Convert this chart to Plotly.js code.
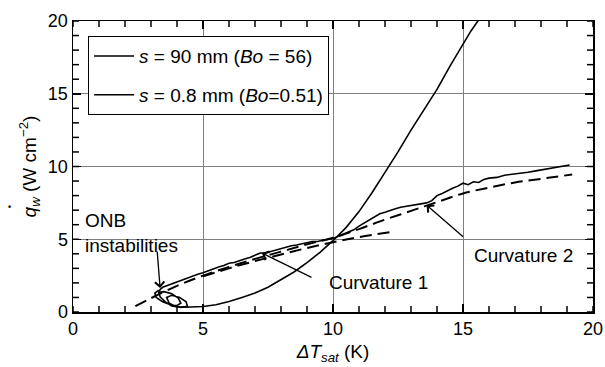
<!DOCTYPE html>
<html>
<head>
<meta charset="utf-8">
<script src="https://cdn.plot.ly/plotly-3.0.1.min.js"></script>
<style>html,body{margin:0;padding:0;background:#fff;}#chart{width:605px;height:367px;}</style>
</head>
<body>
<div id="chart"></div>
<script>
// s = 90 mm (Bo = 56): ONB loops then steep curve
const s90_x = [3.30,3.15,3.20,3.45,3.75,4.00,4.15,4.05,3.80,3.50,3.30,3.35,3.55,3.80,4.15,4.40,4.35,4.10,3.80,3.60,3.70,3.95,4.30,4.60,5.0,5.5,6.0,6.5,7.0,7.5,8.0,8.5,9.0,9.5,10.0,10.5,11.0,11.5,12.0,12.5,13.0,13.5,14.0,14.5,15.0,15.3,15.65];
const s90_y = [1.50,1.30,1.00,0.70,0.50,0.45,0.60,0.95,1.25,1.40,1.35,1.05,0.70,0.42,0.32,0.40,0.70,1.00,1.15,1.00,0.60,0.38,0.33,0.35,0.38,0.50,0.72,1.00,1.30,1.70,2.20,2.75,3.40,4.10,4.90,5.80,6.90,8.20,9.60,11.0,12.5,13.9,15.3,16.9,18.4,19.3,20.2];

// s = 0.8 mm (Bo = 0.51): noisy, gently rising curve
const s08_x = [3.30,3.35,3.45,3.60,3.80,4.00,4.20,4.40,4.60,4.80,5.00,5.20,5.40,5.60,5.80,6.00,6.20,6.40,6.60,6.80,7.00,7.20,7.40,7.60,7.80,8.00,8.20,8.40,8.60,8.80,9.00,9.20,9.40,9.60,9.80,10.0,10.2,10.4,10.6,10.8,11.0,11.2,11.4,11.6,11.8,12.0,12.2,12.4,12.6,12.8,13.0,13.2,13.4,13.6,13.8,14.0,14.2,14.4,14.6,14.8,15.0,15.2,15.4,15.6,15.8,16.0,16.3,16.6,16.9,17.2,17.5,17.8,18.1,18.4,18.7,19.0,19.1];
const s08_y = [1.30,1.55,1.70,1.80,1.95,2.10,2.20,2.35,2.45,2.60,2.70,2.85,2.95,3.10,3.20,3.35,3.40,3.55,3.65,3.75,3.90,4.05,4.05,4.15,4.30,4.40,4.45,4.55,4.60,4.70,4.75,4.85,4.85,4.95,5.00,5.05,5.20,5.30,5.45,5.65,5.90,6.10,6.35,6.50,6.75,6.85,7.00,7.10,7.20,7.25,7.35,7.40,7.45,7.50,7.65,8.00,8.15,8.35,8.50,8.65,8.85,8.75,8.95,8.90,9.10,9.20,9.25,9.40,9.45,9.55,9.60,9.70,9.80,9.85,9.95,10.05,10.10];

// dashed correlation curves
const fit1_x = [2.4,3.0,4.0,5.0,6.0,7.0,8.0,9.0,10.0,11.0,12.0,13.0,14.0,15.0,16.0,17.0,18.0,19.2];
const fit1_y = [0.40,0.95,1.80,2.50,3.10,3.65,4.15,4.65,5.10,5.70,6.35,6.95,7.55,8.15,8.55,8.90,9.15,9.45];
const fit2_x = [5.0,6.0,7.0,8.0,9.0,10.0,11.0,12.4];
const fit2_y = [2.45,3.00,3.50,3.95,4.40,4.80,5.15,5.55];

const xTicks = [0,5,10,15,20];
const yTicks = [0,5,10,15,20];
const minorStep = 1;

const legendLabels = ['<i>s</i> = 90 mm (<i>Bo</i> = 56)', '<i>s</i> = 0.8 mm (<i>Bo</i>=0.51)'];

const FONT = 'Liberation Sans, Arial, sans-serif';
const FS = 18;
const FA = 19;

const W = 605, H = 367, M = {l:73, r:12, t:21, b:55};
const plotW = W - M.l - M.r, plotH = H - M.t - M.b;

const traces = [
  {x: s90_x, y: s90_y, mode:'lines', name: legendLabels[0], legendgroup:'a',
   line:{color:'#000', width:1.6}},
  {x: s08_x, y: s08_y, mode:'lines', name: legendLabels[1], legendgroup:'b',
   line:{color:'#000', width:1.6}},
  {x: fit1_x, y: fit1_y, mode:'lines', showlegend:false, line:{color:'#000', width:2, dash:'12px,6px', shape:'spline'}},
  {x: fit2_x, y: fit2_y, mode:'lines', showlegend:false, line:{color:'#000', width:2, dash:'12px,6px', shape:'spline'}}
];

function axisFor(ticks, title, standoff) {
  return {
    range:[ticks[0], ticks[ticks.length-1]],
    tickmode:'linear', tick0:ticks[0], dtick:ticks[1]-ticks[0],
    showline:true, linecolor:'#000', linewidth:1.5, mirror:'allticks',
    ticks:'inside', ticklen:8, tickwidth:1.5, tickcolor:'#000',
    showgrid:true, gridcolor:'#7f7f7f', gridwidth:1, zeroline:false,
    tickfont:{family:FONT, size:FS, color:'#000'},
    title:{text:title, font:{family:FONT, size:FA}, standoff:standoff}
  };
}

// inside minor tick marks on all four sides, positioned via the axis scales
const tickShapes = [];
const tl = 6;
const nX = Math.round((xTicks[xTicks.length-1] - xTicks[0]) / minorStep);
const nY = Math.round((yTicks[yTicks.length-1] - yTicks[0]) / minorStep);
for (let i = 0; i <= nX; i++) {
  const v = xTicks[0] + i * minorStep;
  const f = tl / plotH;
  tickShapes.push({type:'line', layer:'above', xref:'x', yref:'paper', x0:v, x1:v, y0:0, y1:f, line:{color:'#000', width:1.5}});
  tickShapes.push({type:'line', layer:'above', xref:'x', yref:'paper', x0:v, x1:v, y0:1-f, y1:1, line:{color:'#000', width:1.5}});
}
for (let i = 0; i <= nY; i++) {
  const v = yTicks[0] + i * minorStep;
  const f = tl / plotW;
  tickShapes.push({type:'line', layer:'above', xref:'paper', yref:'y', y0:v, y1:v, x0:0, x1:f, line:{color:'#000', width:1.5}});
  tickShapes.push({type:'line', layer:'above', xref:'paper', yref:'y', y0:v, y1:v, x0:1-f, x1:1, line:{color:'#000', width:1.5}});
}

const layout = {
  width:W, height:H,
  margin:M,
  paper_bgcolor:'#fff', plot_bgcolor:'#fff',
  font:{family:FONT, size:FS, color:'#000'},
  xaxis: axisFor(xTicks, '<i>ΔT</i><sub><i>sat</i></sub> (K)', 6),
  yaxis: axisFor(yTicks, '<i>q</i><sub><i>w</i></sub> (W cm<sup>−2</sup>)', 6),
  shapes: tickShapes,
  showlegend:true,
  legend:{x:0.029, y:0.948, xanchor:'left', yanchor:'top', bgcolor:'#fff', bordercolor:'#000', borderwidth:1,
    font:{family:FONT, size:FA}, traceorder:'grouped', tracegroupgap:11, itemwidth:40},
  annotations:[
    {xref:'paper', yref:'paper', x:-0.123, y:0.36, xanchor:'center', yanchor:'middle',
     text:'<b>•</b>', showarrow:false, font:{family:FONT, size:9}},
    {xref:'paper', yref:'paper', x:0.02, y:0.187, xanchor:'left', yanchor:'bottom', align:'left',
     text:'ONB<br>instabilities', showarrow:false, font:{family:FONT, size:FA}},
    {x:3.35, y:1.65, ax:-3, ay:-38, text:'', showarrow:true, arrowhead:4, arrowsize:1.4, arrowwidth:1.3, arrowcolor:'#000'},
    {x:7.27, y:4.05, ax:51, ay:25, text:'', showarrow:true, arrowhead:4, arrowsize:1.4, arrowwidth:1.3, arrowcolor:'#000'},
    {xref:'x', yref:'y', x:9.75, y:2.0, xanchor:'left', yanchor:'middle', text:'Curvature 1', showarrow:false, font:{family:FONT, size:FA}},
    {x:13.6, y:7.35, ax:38, ay:33, text:'', showarrow:true, arrowhead:4, arrowsize:1.4, arrowwidth:1.3, arrowcolor:'#000'},
    {xref:'x', yref:'y', x:15.35, y:3.9, xanchor:'left', yanchor:'middle', text:'Curvature 2', showarrow:false, font:{family:FONT, size:FA}}
  ]
};

Plotly.newPlot('chart', traces, layout, {displayModeBar:false, staticPlot:true});
</script>
</body>
</html>
